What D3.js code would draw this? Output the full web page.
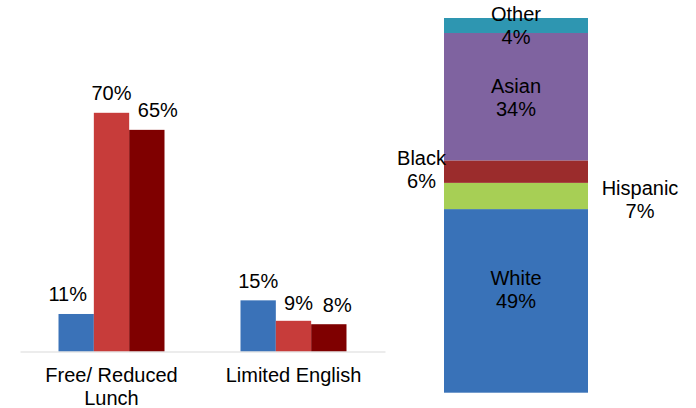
<!DOCTYPE html>
<html><head><meta charset="utf-8">
<script src="https://cdn.jsdelivr.net/npm/d3@7"></script>
<style>
html,body{margin:0;padding:0;background:#fff;}
svg{display:block;font-family:"Liberation Sans",Arial,sans-serif;}
</style></head>
<body>
<script>
// Left grouped bar chart data
const categories = [["Free/ Reduced", "Lunch"], ["Limited English"]];
const seriesNames = ["Series 1", "Series 2", "Series 3"];
const series1 = [11, 15];
const series2 = [70, 9];
const series3 = [65, 8];
const seriesColors = ["#3a72b8", "#c73c3a", "#7f0000"];

// Right stacked bar data (bottom to top)
const groups = ["White", "Hispanic", "Black", "Asian", "Other"];
const groupValues = [49, 7, 6, 34, 4];
const groupColors = ["#3972b8", "#a7cf55", "#9b2c2c", "#7f63a0", "#2e96b1"];

const W = 696, H = 408;
const svg = d3.select("body").append("svg").attr("width", W).attr("height", H);
const FS = 20;
const TXT = "#000";

// ---------- Left chart ----------
const catKeys = categories.map(c => c.join(" "));
const x0 = d3.scaleBand().domain(catKeys).range([20, 385]).paddingInner(0.4176).paddingOuter(0.2116);
const x1 = d3.scaleBand().domain(seriesNames).range([0, x0.bandwidth()]);
const y = d3.scaleLinear().domain([0, 100]).range([351.5, 10.5]);
const allSeries = [series1, series2, series3];

// label nudges [dx, dy] per category/series (collision avoidance like the original)
const valueNudge = [[[-8.5, 0], [0, 0], [11, 0]], [[0, 0], [5, 2], [8.5, 0]]];

const rows = [];
catKeys.forEach((k, i) => seriesNames.forEach((s, j) => rows.push({cat: k, i, s, j, v: allSeries[j][i]})));

const left = svg.append("g");
left.selectAll("rect.bar").data(rows).join("rect")
  .attr("x", d => x0(d.cat) + x1(d.s))
  .attr("width", x1.bandwidth())
  .attr("y", d => y(d.v))
  .attr("height", d => y(0) - y(d.v))
  .attr("fill", d => seriesColors[d.j]);

left.selectAll("text.val").data(rows).join("text")
  .attr("x", d => x0(d.cat) + x1(d.s) + x1.bandwidth() / 2 + valueNudge[d.i][d.j][0])
  .attr("y", d => y(d.v) - 12.5 + valueNudge[d.i][d.j][1])
  .attr("text-anchor", "middle")
  .attr("font-size", FS)
  .attr("fill", TXT)
  .text(d => d.v + "%");

// axis line
const axis = d3.axisBottom(x0).tickSize(0).tickFormat("");
const ax = left.append("g").attr("transform", `translate(0,${y(0)})`).call(axis);
ax.select(".domain").attr("stroke", "#d9d9d9").attr("stroke-width", 1.2);

left.selectAll("text.cat").data(categories.map((c, i) => ({lines: c, key: catKeys[i]}))).join("text")
  .attr("x", d => x0(d.key) + x0.bandwidth() / 2)
  .attr("y", 381.5)
  .attr("text-anchor", "middle")
  .attr("font-size", FS)
  .attr("fill", TXT)
  .selectAll("tspan").data(d => d.lines.map(l => ({l, x: x0(d.key) + x0.bandwidth() / 2}))).join("tspan")
  .attr("x", d => d.x)
  .attr("dy", (d, i) => i === 0 ? 0 : 23.5)
  .text(d => d.l);

// ---------- Right stacked bar ----------
const xs = d3.scaleBand().domain(["Enrollment"]).range([444, 588]);
const ys = d3.scaleLinear().domain([0, 100]).range([392.7, 18]);
let cum = 0;
const segs = groups.map((g, i) => { const s = {g, v: groupValues[i], y0: cum, y1: cum + groupValues[i], c: groupColors[i]}; cum += groupValues[i]; return s; });

const right = svg.append("g");
right.selectAll("rect").data(segs).join("rect")
  .attr("x", xs("Enrollment"))
  .attr("width", xs.bandwidth())
  .attr("y", d => ys(d.y1))
  .attr("height", d => ys(d.y0) - ys(d.y1))
  .attr("fill", d => d.c);

// label placement: inside, left or right of bar, with small vertical nudges
const labelPos = {White: ["in", -16], Hispanic: ["right", -1], Black: ["left", -7], Asian: ["in", -4], Other: ["in", -4]};
right.selectAll("text").data(segs).join("text")
  .attr("text-anchor", "middle")
  .attr("font-size", FS)
  .attr("fill", TXT)
  .each(function(d) {
    const [side, off] = labelPos[d.g];
    const cx = side === "in" ? xs("Enrollment") + xs.bandwidth() / 2
             : side === "left" ? xs("Enrollment") - 22.5
             : xs("Enrollment") + xs.bandwidth() + 52;
    const cy = (ys(d.y0) + ys(d.y1)) / 2 + off;
    const t = d3.select(this).attr("x", cx).attr("y", cy);
    t.append("tspan").attr("x", cx).attr("dy", 0).text(d.g);
    t.append("tspan").attr("x", cx).attr("dy", 23).text(d.v + "%");
  });
</script>
</body></html>
